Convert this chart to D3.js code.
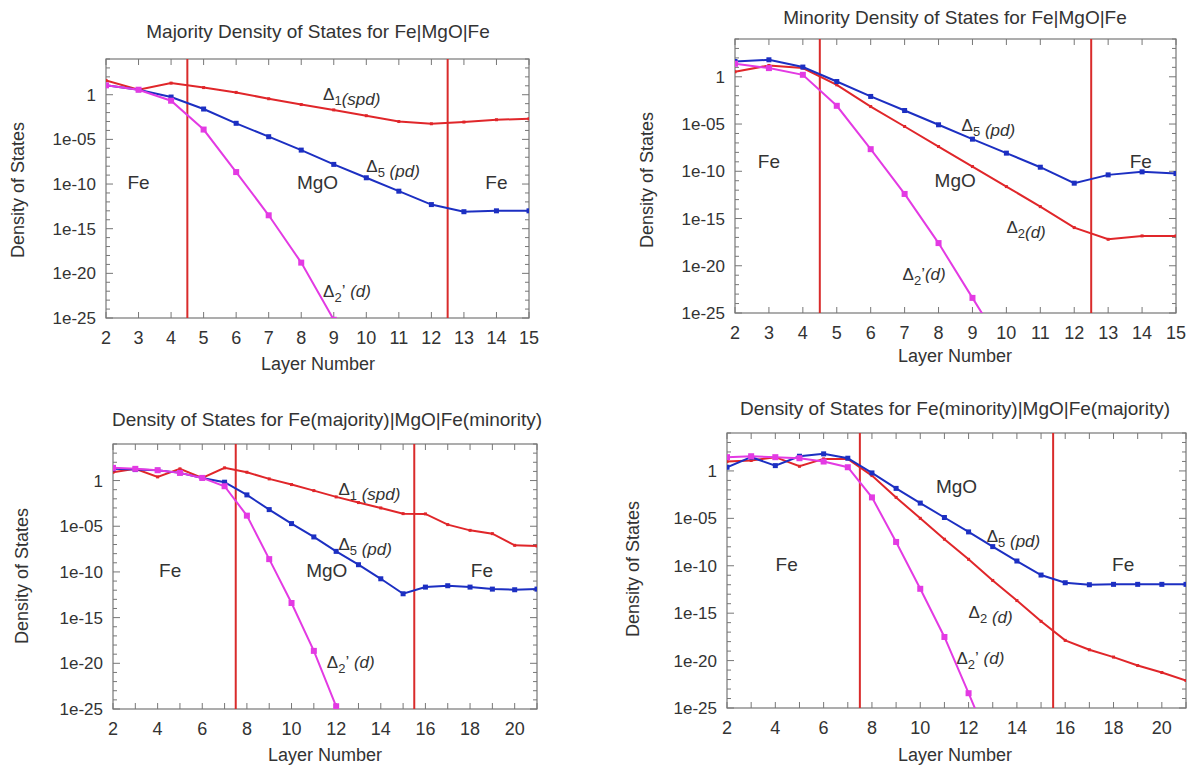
<!DOCTYPE html>
<html lang="en">
<head>
<meta charset="UTF-8">
<script src="https://d3js.org/d3.v7.min.js"></script>
<style>
  body { margin: 0; background: #fff; }
  text { font-family: "Liberation Sans", Arial, sans-serif; fill: #333; }
  .frame { fill: none; stroke: #777; stroke-width: 1.2px; }
  .tick { stroke: #777; stroke-width: 1px; }
  .vline { stroke: #d92b2b; stroke-width: 2px; }
  .curve { fill: none; stroke-width: 2px; }
</style>
</head>
<body>
<script>
// log10 of the density of states, per layer
const layersA = d3.range(2, 16);   // 2..15
const layersB = d3.range(2, 22);   // 2..21

// top left: majority
const majD1  = [1.6, 0.56, 1.3, 0.8, 0.26, -0.45, -1.1, -1.7, -2.35, -3.0, -3.25, -3.06, -2.8, -2.7];
const majD5  = [1.05, 0.56, -0.26, -1.6, -3.2, -4.7, -6.2, -7.8, -9.3, -10.8, -12.3, -13.1, -13.0, -13.0];
const majD2p = [1.05, 0.56, -0.67, -3.9, -8.66, -13.5, -18.8, -25.2];

// top right: minority
const minD5  = [1.62, 1.8, 1.03, -0.5, -2.08, -3.57, -5.08, -6.6, -8.08, -9.57, -11.26, -10.38, -10.06, -10.24];
const minD2  = [0.53, 1.2, 0.92, -0.85, -3.15, -5.26, -7.38, -9.5, -11.62, -13.74, -15.96, -17.2, -16.84, -16.84];
const minD2p = [1.38, 0.92, 0.21, -3.07, -7.66, -12.4, -17.6, -23.4, -29.2];

// bottom left: Fe(majority)|MgO|Fe(minority)
const mjmnD1  = [0.91, 1.28, 0.40, 1.28, 0.29, 1.39, 0.91, 0.18, -0.44, -1.1, -1.79, -2.41, -3.0, -3.62, -3.65, -4.82, -5.45, -5.81, -7.09, -7.16];
const mjmnD5  = [1.28, 1.2, 1.13, 0.84, 0.29, -0.18, -1.57, -3.18, -4.71, -6.17, -7.75, -9.21, -10.75, -12.39, -11.66, -11.51, -11.66, -11.88, -11.95, -11.88];
const mjmnD2p = [1.39, 1.28, 1.13, 0.84, 0.29, -0.62, -3.84, -8.6, -13.4, -18.64, -24.7];

// bottom right: Fe(minority)|MgO|Fe(majority)
const mnmjD5  = [0.39, 1.45, 0.56, 1.55, 1.8, 1.34, -0.21, -1.84, -3.39, -4.91, -6.43, -7.98, -9.5, -10.98, -11.79, -12.0, -11.96, -11.96, -11.96, -11.96];
const mnmjD2  = [0.99, 1.1, 1.45, 0.49, 1.27, 1.27, -0.49, -2.79, -5.0, -7.2, -9.32, -11.55, -13.67, -15.86, -17.87, -18.86, -19.63, -20.52, -21.26, -22.1];
const mnmjD2p = [1.45, 1.55, 1.45, 1.34, 0.99, 0.39, -2.79, -7.49, -12.43, -17.51, -23.44, -29.5];

const yTickVals = [0, -5, -10, -15, -20, -25];
const yTickText = ["1", "1e-05", "1e-10", "1e-15", "1e-20", "1e-25"];

const RED = "#e0262a", BLUE = "#1c2fc2", MAG = "#e33ae3";

const svg = d3.select("body").append("svg").attr("width", 1195).attr("height", 769);

const panels = [
  { box: [106, 529, 59, 318], xMax: 15, layers: layersA, xLabelStep: 1, walls: [4.5, 12.5],
    title: "Majority Density of States for Fe|MgO|Fe", titleXY: [318, 38],
    yLab: [18, 190], xLab: [318, 370],
    series: [{ v: majD1, c: RED, m: "dot" }, { v: majD5, c: BLUE, m: "sq" }, { v: majD2p, c: MAG, m: "big" }],
    words: [["Fe", 3.0, -10.5], ["MgO", 8.5, -10.5], ["Fe", 14.0, -10.5]],
    deltas: [["1", "", "(spd)", 8.67, -0.56], ["5", "", " (pd)", 10.0, -8.6], ["2", "’", " (d)", 8.67, -22.7]] },
  { box: [735, 1176, 39, 313], xMax: 15, layers: layersA, xLabelStep: 1, walls: [4.5, 12.5],
    title: "Minority Density of States for Fe|MgO|Fe", titleXY: [955, 24],
    yLab: [647, 180], xLab: [955, 362],
    series: [{ v: minD2, c: RED, m: "dot" }, { v: minD5, c: BLUE, m: "sq" }, { v: minD2p, c: MAG, m: "big" }],
    words: [["Fe", 3.0, -9.64], ["MgO", 8.49, -11.65], ["Fe", 13.96, -9.64]],
    deltas: [["5", "", " (pd)", 8.68, -5.7], ["2", "", "(d)", 10.0, -16.5], ["2", "’", "(d)", 6.94, -21.5]] },
  { box: [113, 537, 444, 709], xMax: 21, layers: layersB, xLabelStep: 2, walls: [7.5, 15.5],
    title: "Density of States for Fe(majority)|MgO|Fe(minority)", titleXY: [327, 426],
    yLab: [22, 576], xLab: [325, 761],
    series: [{ v: mjmnD1, c: RED, m: "dot" }, { v: mjmnD5, c: BLUE, m: "sq" }, { v: mjmnD2p, c: MAG, m: "big" }],
    words: [["Fe", 4.56, -10.6], ["MgO", 11.58, -10.6], ["Fe", 18.53, -10.6]],
    deltas: [["1", "", " (spd)", 12.1, -1.53], ["5", "", " (pd)", 12.1, -7.57], ["2", "’", " (d)", 11.58, -20.5]] },
  { box: [727, 1186, 433, 708], xMax: 21, layers: layersB, xLabelStep: 2, walls: [7.5, 15.5],
    title: "Density of States for Fe(minority)|MgO|Fe(majority)", titleXY: [955, 415],
    yLab: [633, 569], xLab: [955, 761],
    series: [{ v: mnmjD2, c: RED, m: "dot" }, { v: mnmjD5, c: BLUE, m: "sq" }, { v: mnmjD2p, c: MAG, m: "big" }],
    words: [["Fe", 4.47, -10.6], ["MgO", 11.5, -2.28], ["Fe", 18.4, -10.6]],
    deltas: [["5", "", " (pd)", 12.75, -7.5], ["2", "", " (d)", 12.0, -15.5], ["2", "’", " (d)", 11.5, -20.4]] }
];

panels.forEach((p, i) => {
  const [l, r, t, b] = p.box;
  const x = d3.scaleLinear().domain([2, p.xMax]).range([l, r]);
  const y = d3.scaleLinear().domain([-25, 4]).range([b, t]);
  const g = svg.append("g");

  g.append("clipPath").attr("id", "clip" + i)
    .append("rect").attr("x", l).attr("y", t).attr("width", r - l).attr("height", b - t);

  // ticks: x every layer, y every decade (longer every 5)
  d3.range(2, p.xMax + 1).forEach(v => {
    g.append("line").attr("class", "tick").attr("x1", x(v)).attr("x2", x(v)).attr("y1", b).attr("y2", b - 6);
    g.append("line").attr("class", "tick").attr("x1", x(v)).attr("x2", x(v)).attr("y1", t).attr("y2", t + 6);
  });
  d3.range(-25, 5).forEach(v => {
    const len = v % 5 === 0 ? 7 : 4;
    g.append("line").attr("class", "tick").attr("x1", l).attr("x2", l + len).attr("y1", y(v)).attr("y2", y(v));
    g.append("line").attr("class", "tick").attr("x1", r).attr("x2", r - len).attr("y1", y(v)).attr("y2", y(v));
  });

  g.append("rect").attr("class", "frame").attr("x", l).attr("y", t).attr("width", r - l).attr("height", b - t);

  // tick labels
  d3.range(2, p.xMax + 1, p.xLabelStep).forEach(v => {
    g.append("text").attr("x", x(v)).attr("y", b + 26).attr("text-anchor", "middle")
      .attr("font-size", 18).text(v);
  });
  yTickVals.forEach((v, k) => {
    g.append("text").attr("x", l - 10).attr("y", y(v) + 6).attr("text-anchor", "end")
      .attr("font-size", 17).text(yTickText[k]);
  });

  // interface walls
  p.walls.forEach(w => {
    g.append("line").attr("class", "vline").attr("x1", x(w)).attr("x2", x(w)).attr("y1", t).attr("y2", b);
  });

  // curves
  const plot = g.append("g").attr("clip-path", `url(#clip${i})`);
  const line = d3.line().x((d, k) => x(p.layers[k])).y(d => y(d));
  p.series.forEach(s => {
    plot.append("path").attr("class", "curve").attr("stroke", s.c).attr("d", line(s.v));
    const sz = s.m === "big" ? 6 : s.m === "sq" ? 5 : 3;
    plot.selectAll(null).data(s.v).enter().append("rect")
      .attr("x", (d, k) => x(p.layers[k]) - sz / 2)
      .attr("y", d => y(d) - sz / 2)
      .attr("width", sz).attr("height", sz)
      .attr("fill", s.c);
  });

  // region words
  p.words.forEach(([w, wx, wy]) => {
    g.append("text").attr("x", x(wx)).attr("y", y(wy)).attr("text-anchor", "middle")
      .attr("font-size", 19).text(w);
  });

  // band labels
  p.deltas.forEach(([sub, prime, rest, dx, dy]) => {
    const tx = g.append("text").attr("x", x(dx)).attr("y", y(dy)).attr("font-size", 17);
    tx.append("tspan").text("Δ");
    tx.append("tspan").attr("font-size", 13).attr("dy", 5).text(sub);
    tx.append("tspan").attr("dy", -5).text(prime);
    tx.append("tspan").attr("font-style", "italic").text(rest);
  });

  // titles & axis labels
  g.append("text").attr("x", p.titleXY[0]).attr("y", p.titleXY[1]).attr("text-anchor", "middle")
    .attr("font-size", 19).text(p.title);
  g.append("text").attr("x", p.xLab[0]).attr("y", p.xLab[1]).attr("text-anchor", "middle")
    .attr("font-size", 18).text("Layer Number");
  g.append("text").attr("transform", `translate(${p.yLab[0] + 6},${p.yLab[1]}) rotate(-90)`)
    .attr("text-anchor", "middle").attr("font-size", 18).text("Density of States");
});
</script>
</body>
</html>
